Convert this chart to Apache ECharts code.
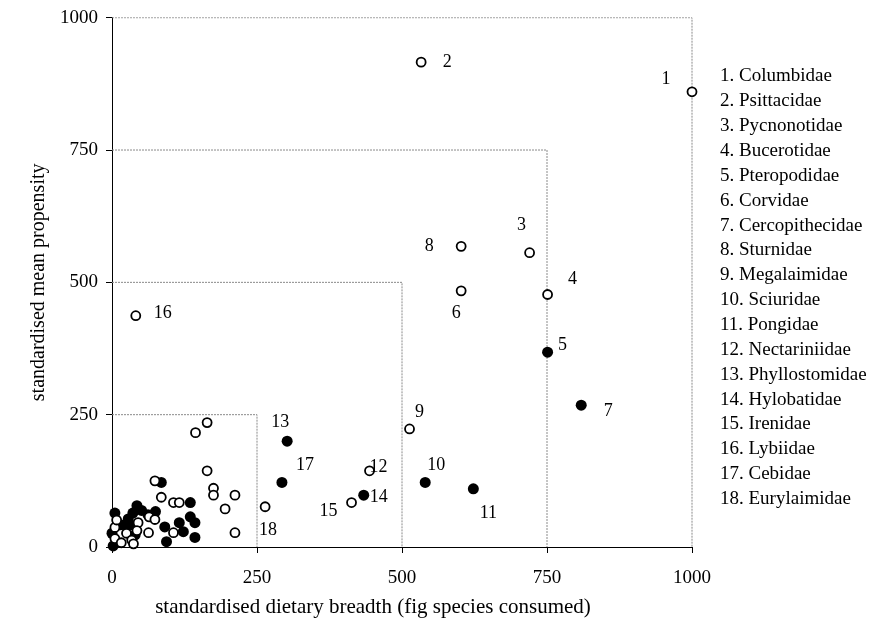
<!DOCTYPE html>
<html>
<head>
<meta charset="utf-8">
<script src="https://cdn.jsdelivr.net/npm/echarts@6/dist/echarts.min.js"></script>
<style>
  html, body { margin: 0; padding: 0; background: #fff; }
  #chart { width: 880px; height: 635px; }
</style>
</head>
<body>
<div id="chart"></div>
<script>
// Numbered families: standardised dietary breadth (x) vs standardised mean propensity (y)
const famNames = ['Columbidae', 'Psittacidae', 'Pycnonotidae', 'Bucerotidae', 'Pteropodidae',
  'Corvidae', 'Cercopithecidae', 'Sturnidae', 'Megalaimidae', 'Sciuridae', 'Pongidae',
  'Nectariniidae', 'Phyllostomidae', 'Hylobatidae', 'Irenidae', 'Lybiidae', 'Cebidae', 'Eurylaimidae'];
const famX = [1000, 533, 720, 751, 751, 602, 809, 602, 513, 540, 623, 444, 302, 434, 413, 41, 293, 264];
const famY = [860, 916, 556, 477, 368, 484, 268, 568, 223, 122, 110, 144, 200, 98, 84, 437, 122, 76];
// true = mammal family (filled marker), false = bird family (open marker)
const famFilled = [false, false, false, false, true, false, true, false, false, true, true,
  false, true, true, false, false, true, false];
// pixel offset of each number label from its marker
const famLabelOffset = [[-26, -13], [26, 0], [-8, -27], [25, -15], [15, -7], [-5, 22], [27, 6],
  [-32, 0], [10, -17], [11, -17], [15, 24], [9, -4], [-7, -19], [15, 2], [-23, 9], [27, -2],
  [23, -17], [3, 23]];

// Remaining (unlabelled) families
const openX = [164, 144, 164, 74, 175, 175, 212, 85, 106, 116, 195, 212, 64, 74, 45, 5, 8, 106, 63, 43, 25, 5, 16, 34, 37];
const openY = [235, 216, 144, 125, 111, 98, 98, 94, 84, 84, 72, 27, 57, 52, 46, 37, 51, 27, 27, 31, 26, 16, 8, 13, 6];
const filledX = [85, 135, 43, 36, 51, 62, 75, 5, 14, 22, 31, 91, 116, 135, 143, 123, 143, 94, 40, 2, 0, 28];
const filledY = [122, 84, 78, 64, 69, 61, 67, 64, 42, 42, 42, 38, 46, 57, 46, 29, 18, 10, 23, 2, 26, 53];

// Axis ticks, also used for the nested reference squares
const ticks = [0, 250, 500, 750, 1000];

const FONT = 'Liberation Serif';
const openStyle = { color: '#fff', borderColor: '#000', borderWidth: 1.8, opacity: 1 };
const filledStyle = { color: '#000', borderColor: '#000', borderWidth: 0, opacity: 1 };

const zip = (xs, ys) => xs.map((x, i) => [x, ys[i]]);

const squares = ticks.slice(1).map(t => ({
  type: 'line',
  data: [[0, t], [t, t], [t, 0]],
  symbol: 'none',
  silent: true,
  z: 1,
  lineStyle: { color: '#8a8a8a', width: 1, type: [2, 1] },
  animation: false
}));

const famData = (filled) => famNames.map((n, i) => ({ i, n }))
  .filter(d => famFilled[d.i] === filled)
  .map(d => ({
    value: [famX[d.i], famY[d.i]],
    label: {
      show: true,
      formatter: String(d.i + 1),
      position: 'inside',
      offset: famLabelOffset[d.i],
      color: '#000',
      opacity: 1,
      fontFamily: FONT,
      fontSize: 18
    }
  }));

const chart = echarts.init(document.getElementById('chart'), null, { renderer: 'canvas' });
chart.setOption({
  animation: false,
  backgroundColor: '#fff',
  grid: { left: 112, right: 188, top: 17.7, bottom: 88, containLabel: false },
  xAxis: {
    type: 'value', min: 0, max: 1000, interval: 250,
    name: 'standardised dietary breadth (fig species consumed)',
    nameLocation: 'middle', nameGap: 50,
    nameTextStyle: { fontFamily: FONT, fontSize: 21, color: '#000', padding: [0, 58, 0, 0] },
    axisLine: { show: true, onZero: false, lineStyle: { color: '#000', width: 1 } },
    axisTick: { show: true, inside: false, length: 6, lineStyle: { color: '#000' } },
    axisLabel: { fontFamily: FONT, fontSize: 19, color: '#000', margin: 22, formatter: v => String(v) },
    splitLine: { show: false }
  },
  yAxis: {
    type: 'value', min: 0, max: 1000, interval: 250,
    name: 'standardised mean propensity',
    nameLocation: 'middle', nameGap: 60, nameRotate: 90,
    nameTextStyle: { fontFamily: FONT, fontSize: 20, color: '#000' },
    axisLine: { show: true, onZero: false, lineStyle: { color: '#000', width: 1 } },
    axisTick: { show: true, inside: false, length: 6, lineStyle: { color: '#000' } },
    axisLabel: { fontFamily: FONT, fontSize: 19, color: '#000', margin: 14, formatter: v => String(v) },
    splitLine: { show: false }
  },
  graphic: [{
    type: 'text',
    left: 720,
    top: 64,
    style: {
      text: famNames.map((n, i) => (i + 1) + '. ' + n).join('\n'),
      font: '19px "' + FONT + '"',
      fill: '#000',
      lineHeight: 24.86
    }
  }],
  series: [
    ...squares,
    { type: 'scatter', data: zip(filledX, filledY), symbolSize: 11, itemStyle: filledStyle, z: 3 },
    { type: 'scatter', data: zip(openX, openY), symbolSize: 9, itemStyle: openStyle, z: 4 },
    { type: 'scatter', data: famData(true), symbolSize: 11, itemStyle: filledStyle, z: 5 },
    { type: 'scatter', data: famData(false), symbolSize: 9, itemStyle: openStyle, z: 5 }
  ]
});
</script>
</body>
</html>
